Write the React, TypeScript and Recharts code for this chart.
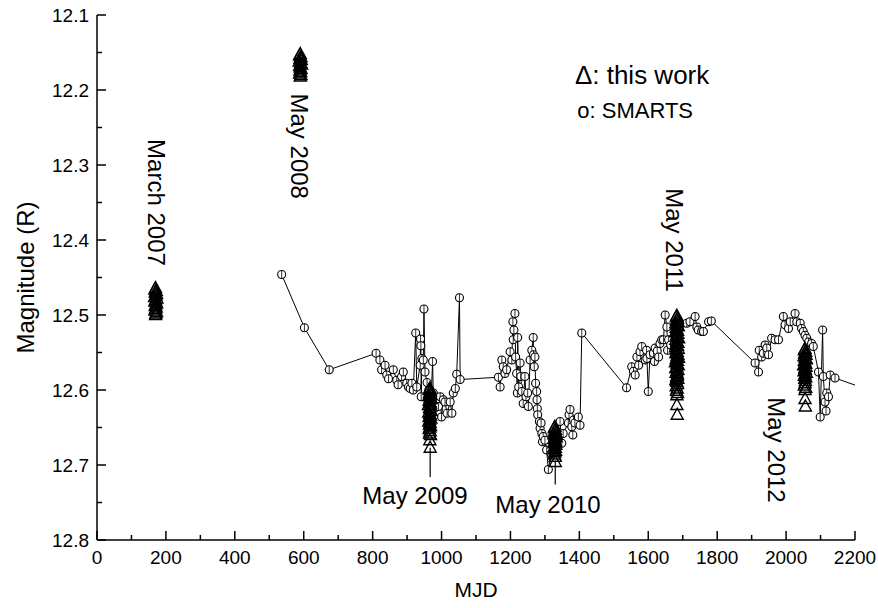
import React from 'react';
import { ScatterChart, Scatter, XAxis, YAxis, Label } from 'recharts';

const FONT = '"Liberation Sans", Arial, sans-serif';

// axis ticks (minor ticks every 100 MJD / 0.05 mag)
const xTicks = [0, 100, 200, 300, 400, 500, 600, 700, 800, 900, 1000, 1100, 1200, 1300, 1400, 1500, 1600, 1700, 1800, 1900, 2000, 2100, 2200];
const yTicks = [12.1, 12.15, 12.2, 12.25, 12.3, 12.35, 12.4, 12.45, 12.5, 12.55, 12.6, 12.65, 12.7, 12.75, 12.8];

// SMARTS light curve [MJD, R mag]
const smarts: [number, number][] = [
  [536, 12.446], [602, 12.517], [674, 12.573], [810, 12.551], [821, 12.56], [826, 12.573],
  [836, 12.567], [841, 12.58], [846, 12.585], [860, 12.573], [870, 12.587], [874, 12.593],
  [884, 12.582], [889, 12.576], [899, 12.591], [904, 12.596], [909, 12.598], [914, 12.591],
  [918, 12.6], [925, 12.524], [928, 12.596], [938, 12.567], [939, 12.532], [940, 12.541],
  [941, 12.609], [943, 12.558], [947, 12.56], [949, 12.492], [952, 12.576], [958, 12.59],
  [963, 12.6], [970, 12.61], [974, 12.562], [976, 12.604], [985, 12.615], [991, 12.622],
  [996, 12.609], [1000, 12.636], [1005, 12.613], [1010, 12.616], [1016, 12.631], [1025, 12.616],
  [1030, 12.631], [1034, 12.604], [1040, 12.598], [1044, 12.579], [1052, 12.477], [1054, 12.586],
  [1165, 12.583], [1170, 12.596], [1175, 12.56], [1179, 12.569], [1184, 12.578], [1189, 12.573],
  [1199, 12.549], [1204, 12.56], [1207, 12.509], [1208, 12.533], [1210, 12.52], [1213, 12.498],
  [1215, 12.556], [1218, 12.578], [1220, 12.604], [1221, 12.53], [1224, 12.596], [1228, 12.564],
  [1230, 12.582], [1233, 12.602], [1237, 12.618], [1242, 12.582], [1245, 12.609], [1250, 12.604],
  [1252, 12.622], [1257, 12.56], [1262, 12.547], [1266, 12.53], [1267, 12.553], [1269, 12.569],
  [1271, 12.556], [1273, 12.591], [1276, 12.602], [1277, 12.613], [1278, 12.625], [1279, 12.633],
  [1284, 12.642], [1286, 12.651], [1289, 12.644], [1291, 12.658], [1293, 12.669], [1295, 12.662],
  [1300, 12.667], [1305, 12.68], [1310, 12.706], [1318, 12.685], [1344, 12.642], [1349, 12.671],
  [1353, 12.658], [1368, 12.644], [1370, 12.633], [1373, 12.626], [1378, 12.649], [1381, 12.66],
  [1383, 12.64], [1387, 12.644], [1397, 12.636], [1402, 12.647], [1407, 12.524], [1537, 12.597],
  [1552, 12.569], [1557, 12.575], [1562, 12.58], [1567, 12.556], [1572, 12.567], [1576, 12.549],
  [1581, 12.542], [1591, 12.56], [1595, 12.547], [1596, 12.558], [1600, 12.602], [1605, 12.553],
  [1615, 12.551], [1618, 12.562], [1620, 12.544], [1626, 12.548], [1630, 12.556], [1634, 12.538],
  [1639, 12.533], [1644, 12.533], [1649, 12.5], [1654, 12.516], [1656, 12.547], [1659, 12.533],
  [1665, 12.54], [1712, 12.511], [1721, 12.509], [1736, 12.502], [1741, 12.516], [1745, 12.52],
  [1755, 12.522], [1760, 12.522], [1775, 12.509], [1783, 12.508], [1910, 12.564], [1920, 12.576],
  [1922, 12.547], [1929, 12.556], [1934, 12.551], [1939, 12.54], [1944, 12.544], [1949, 12.553],
  [1958, 12.531], [1968, 12.533], [1978, 12.533], [1992, 12.502], [1997, 12.513], [2007, 12.518],
  [2012, 12.509], [2026, 12.498], [2031, 12.509], [2041, 12.511], [2045, 12.518], [2050, 12.522],
  [2055, 12.527], [2060, 12.531], [2065, 12.536], [2074, 12.538], [2079, 12.542], [2094, 12.576],
  [2099, 12.636], [2106, 12.52], [2108, 12.582], [2113, 12.616], [2116, 12.628], [2118, 12.604],
  [2123, 12.609], [2128, 12.58], [2142, 12.584], [2240, 12.6],
];

// this work, one array per observing run
const march2007: [number, number][] = [
  [170, 12.464], [168, 12.466], [172, 12.468], [169, 12.47], [173, 12.472], [171, 12.474],
  [167, 12.476], [174, 12.478], [170, 12.48], [168, 12.482], [173, 12.484], [171, 12.486],
  [169, 12.488], [172, 12.49], [170, 12.492], [168, 12.494], [173, 12.496], [171, 12.498], [170, 12.5],
];
const may2008: [number, number][] = [
  [590, 12.152], [588, 12.154], [592, 12.156], [589, 12.158], [593, 12.16], [587, 12.162],
  [591, 12.164], [594, 12.166], [588, 12.168], [590, 12.17], [592, 12.172], [589, 12.174],
  [591, 12.176], [588, 12.178], [592, 12.18], [590, 12.182],
];
const may2009: [number, number][] = [
  [966, 12.598], [964, 12.6], [968, 12.602], [965, 12.604], [969, 12.606], [963, 12.608],
  [967, 12.61], [970, 12.612], [964, 12.614], [966, 12.616], [968, 12.618], [962, 12.62],
  [969, 12.622], [965, 12.624], [967, 12.626], [970, 12.628], [963, 12.63], [966, 12.632],
  [968, 12.634], [964, 12.636], [969, 12.638], [966, 12.64], [963, 12.642], [967, 12.644],
  [965, 12.646], [968, 12.648], [966, 12.65], [964, 12.652], [967, 12.655], [965, 12.658],
  [968, 12.66], [966, 12.667], [967, 12.677],
];
const may2010: [number, number][] = [
  [1329, 12.649], [1327, 12.651], [1331, 12.653], [1328, 12.655], [1332, 12.657], [1326, 12.659],
  [1330, 12.661], [1333, 12.663], [1327, 12.665], [1329, 12.667], [1331, 12.669], [1326, 12.671],
  [1332, 12.673], [1328, 12.675], [1330, 12.677], [1327, 12.679], [1331, 12.681], [1329, 12.683],
  [1328, 12.686], [1330, 12.689], [1330, 12.696],
];
const may2011: [number, number][] = [
  [1683, 12.501], [1681, 12.503], [1685, 12.505], [1682, 12.507], [1686, 12.509], [1680, 12.511],
  [1684, 12.513], [1687, 12.515], [1681, 12.517], [1683, 12.519], [1685, 12.521], [1679, 12.523],
  [1686, 12.525], [1682, 12.527], [1684, 12.529], [1688, 12.531], [1680, 12.533], [1683, 12.535],
  [1686, 12.537], [1681, 12.539], [1685, 12.541], [1679, 12.543], [1687, 12.545], [1682, 12.547],
  [1684, 12.549], [1680, 12.551], [1686, 12.553], [1683, 12.555], [1688, 12.557], [1681, 12.559],
  [1685, 12.561], [1679, 12.563], [1684, 12.565], [1687, 12.567], [1682, 12.569], [1680, 12.571],
  [1686, 12.573], [1683, 12.575], [1681, 12.577], [1685, 12.579], [1684, 12.581], [1682, 12.583],
  [1686, 12.585], [1680, 12.587], [1683, 12.589], [1685, 12.592], [1681, 12.595], [1684, 12.598],
  [1682, 12.601], [1685, 12.604], [1683, 12.607],
  [1683, 12.62], [1684, 12.633],
];
const may2012: [number, number][] = [
  [2055, 12.545], [2053, 12.547], [2057, 12.549], [2054, 12.551], [2058, 12.553], [2052, 12.555],
  [2056, 12.557], [2059, 12.559], [2053, 12.561], [2055, 12.563], [2057, 12.565], [2051, 12.567],
  [2058, 12.569], [2054, 12.571], [2056, 12.573], [2052, 12.575], [2059, 12.577], [2055, 12.579],
  [2053, 12.581], [2057, 12.583], [2054, 12.585], [2056, 12.588], [2055, 12.591], [2053, 12.594],
  [2057, 12.597], [2055, 12.6],
  [2055, 12.612], [2056, 12.622],
];

// error-bar tails below the faintest points
const tail2009: [number, number][] = [[967, 12.677], [967, 12.716]];
const tail2010: [number, number][] = [[1330, 12.696], [1330, 12.726]];

// labels placed in data coordinates
const notes = [
  { mjd: 174, mag: 12.35, text: 'March 2007', rotate: true, anchor: 'middle', size: 24 },
  { mjd: 589, mag: 12.275, text: 'May 2008', rotate: true, anchor: 'middle', size: 24 },
  { mjd: 1675, mag: 12.4, text: 'May 2011', rotate: true, anchor: 'middle', size: 24 },
  { mjd: 1971, mag: 12.68, text: 'May 2012', rotate: true, anchor: 'middle', size: 24 },
  { mjd: 923, mag: 12.74, text: 'May 2009', rotate: false, anchor: 'middle', size: 24 },
  { mjd: 1309, mag: 12.753, text: 'May 2010', rotate: false, anchor: 'middle', size: 24 },
  { mjd: 1387, mag: 12.18, text: '\u0394: this work', rotate: false, anchor: 'start', size: 26 },
  { mjd: 1394, mag: 12.227, text: 'o: SMARTS', rotate: false, anchor: 'start', size: 22 },
];

const toPts = (arr: [number, number][]) => arr.map(([mjd, mag]) => ({ mjd, mag }));

const smartsData = toPts(smarts);
const thisWorkData = toPts([...march2007, ...may2008, ...may2009, ...may2010, ...may2011, ...may2012]);

const CircleMark = (props: any) => {
  const { cx, cy } = props;
  if (cx == null || cy == null) return <g />;
  return (
    <g>
      <circle cx={cx} cy={cy} r={4} fill="#fff" stroke="#000" strokeWidth={1.1} />
      <line x1={cx} x2={cx} y1={cy - 4} y2={cy + 4} stroke="#000" strokeWidth={0.8} />
    </g>
  );
};

const TriangleMark = (props: any) => {
  const { cx, cy } = props;
  if (cx == null || cy == null) return <g />;
  return (
    <path
      d={`M${cx},${cy - 6.5}L${cx + 6},${cy + 4.5}L${cx - 6},${cy + 4.5}Z`}
      fill="none"
      stroke="#000"
      strokeWidth={1.4}
    />
  );
};

const NoMark = () => <g />;

const NoteMark = (props: any) => {
  const { cx, cy, payload } = props;
  if (cx == null || cy == null) return <g />;
  return (
    <text
      x={cx}
      y={cy}
      textAnchor={payload.anchor}
      dominantBaseline="central"
      fontSize={payload.size}
      fontFamily={FONT}
      fill="#000"
      transform={payload.rotate ? `rotate(90, ${cx}, ${cy})` : undefined}
    >
      {payload.text}
    </text>
  );
};

const BottomTick = (props: any) => {
  const { x, y, payload } = props;
  const v = payload.value;
  const major = v % 200 === 0;
  return (
    <g>
      <line x1={x} x2={x} y1={y} y2={y - (major ? 9 : 5)} stroke="#000" strokeWidth={1.5} />
      {major && (
        <text x={x} y={y + 24} textAnchor="middle" fontSize={19} fontFamily={FONT} fill="#000">
          {v}
        </text>
      )}
    </g>
  );
};

const TopTick = (props: any) => {
  const { x, y, payload } = props;
  const major = payload.value % 200 === 0;
  return <line x1={x} x2={x} y1={y} y2={y + (major ? 9 : 5)} stroke="#000" strokeWidth={1.5} />;
};

const isMajorY = (v: number) => Math.round(v * 100) % 10 === 0;

const LeftTick = (props: any) => {
  const { x, y, payload } = props;
  const v = payload.value;
  const major = isMajorY(v);
  return (
    <g>
      <line x1={x} x2={x + (major ? 9 : 5)} y1={y} y2={y} stroke="#000" strokeWidth={1.5} />
      {major && (
        <text x={x - 8} y={y} textAnchor="end" dominantBaseline="central" fontSize={19} fontFamily={FONT} fill="#000">
          {v.toFixed(1)}
        </text>
      )}
    </g>
  );
};

const RightTick = (props: any) => {
  const { x, y, payload } = props;
  const major = isMajorY(payload.value);
  return <line x1={x} x2={x - (major ? 9 : 5)} y1={y} y2={y} stroke="#000" strokeWidth={1.5} />;
};

const axisLine = { stroke: '#000', strokeWidth: 1.5 };

export default function App() {
  return (
    <div style={{ position: 'absolute', left: 0, top: 0, background: '#fff' }}>
      <ScatterChart width={878} height={608} margin={{ top: 15, right: 23, bottom: 0, left: 0 }}>
        <XAxis
          xAxisId="bottom"
          type="number"
          dataKey="mjd"
          domain={[0, 2200]}
          allowDataOverflow
          ticks={xTicks}
          interval={0}
          tick={<BottomTick />}
          tickLine={false}
          tickSize={0}
          tickMargin={0}
          axisLine={axisLine}
          height={68}
        >
          <Label
            content={(p: any) => (
              <text
                x={p.viewBox.x + p.viewBox.width / 2}
                y={p.viewBox.y + 57}
                textAnchor="middle"
                fontSize={21}
                fontFamily={FONT}
              >
                MJD
              </text>
            )}
          />
        </XAxis>
        <XAxis
          xAxisId="top"
          orientation="top"
          type="number"
          dataKey="mjd"
          domain={[0, 2200]}
          allowDataOverflow
          ticks={xTicks}
          interval={0}
          tick={<TopTick />}
          tickLine={false}
          tickSize={0}
          tickMargin={0}
          axisLine={axisLine}
          height={0}
        />
        <YAxis
          yAxisId="left"
          type="number"
          dataKey="mag"
          domain={[12.1, 12.8]}
          reversed
          allowDataOverflow
          ticks={yTicks}
          interval={0}
          tick={<LeftTick />}
          tickLine={false}
          tickSize={0}
          tickMargin={0}
          axisLine={axisLine}
          width={97}
        >
          <Label
            content={(p: any) => {
              const cx = 25;
              const cy = p.viewBox.y + p.viewBox.height / 2;
              return (
                <text
                  x={cx}
                  y={cy}
                  textAnchor="middle"
                  dominantBaseline="central"
                  fontSize={24}
                  fontFamily={FONT}
                  transform={`rotate(-90, ${cx}, ${cy})`}
                >
                  Magnitude (R)
                </text>
              );
            }}
          />
        </YAxis>
        <YAxis
          yAxisId="right"
          orientation="right"
          type="number"
          dataKey="mag"
          domain={[12.1, 12.8]}
          reversed
          allowDataOverflow
          ticks={yTicks}
          interval={0}
          tick={<RightTick />}
          tickLine={false}
          tickSize={0}
          tickMargin={0}
          axisLine={axisLine}
          width={0}
        />
        <Scatter
          xAxisId="bottom"
          yAxisId="left"
          data={smartsData}
          dataKey="mag"
          shape={CircleMark}
          line={{ stroke: '#000', strokeWidth: 1 }}
          lineType="joint"
          isAnimationActive={false}
        />
        <Scatter
          xAxisId="bottom"
          yAxisId="left"
          data={toPts(tail2009)}
          dataKey="mag"
          shape={NoMark}
          line={{ stroke: '#000', strokeWidth: 1.2 }}
          isAnimationActive={false}
        />
        <Scatter
          xAxisId="bottom"
          yAxisId="left"
          data={toPts(tail2010)}
          dataKey="mag"
          shape={NoMark}
          line={{ stroke: '#000', strokeWidth: 1.2 }}
          isAnimationActive={false}
        />
        <Scatter
          xAxisId="bottom"
          yAxisId="left"
          data={thisWorkData}
          dataKey="mag"
          shape={TriangleMark}
          isAnimationActive={false}
        />
        <Scatter
          xAxisId="top"
          yAxisId="right"
          data={notes}
          dataKey="mag"
          shape={NoteMark}
          isAnimationActive={false}
        />
      </ScatterChart>
    </div>
  );
}
